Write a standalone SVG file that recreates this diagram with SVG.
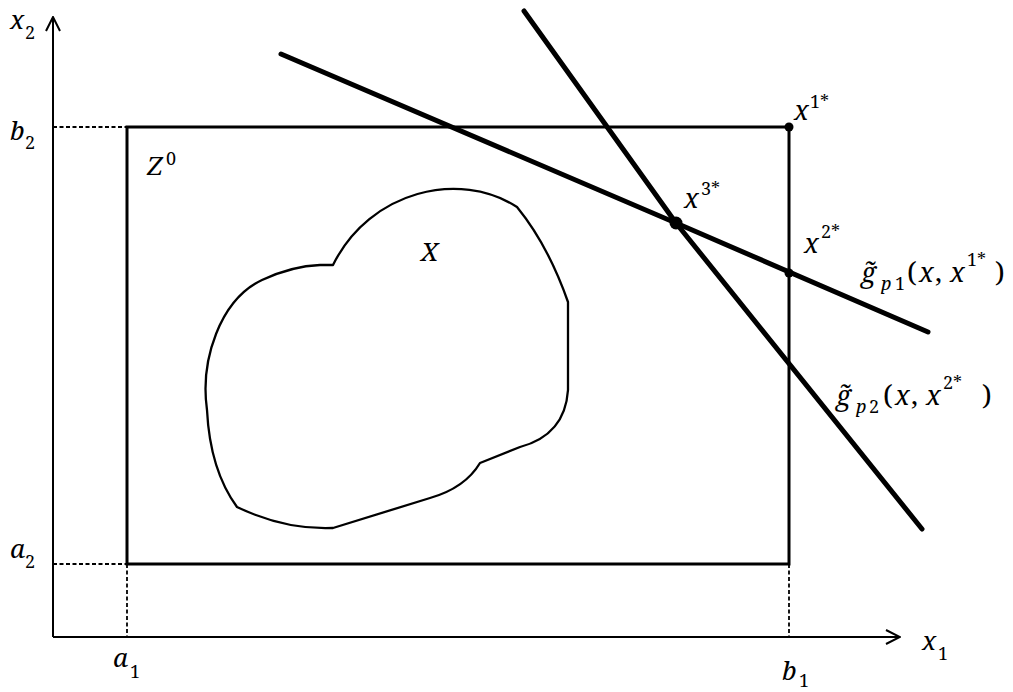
<svg xmlns="http://www.w3.org/2000/svg" width="1013" height="692" viewBox="0 0 1013 692">
<style>
  .ax{stroke:#000;stroke-width:2;fill:none}
  .dash{stroke:#000;stroke-width:1.8;stroke-dasharray:4 2.5;fill:none}
  .box{stroke:#000;stroke-width:3;fill:none}
  .blob{stroke:#000;stroke-width:2.3;fill:none;stroke-linejoin:round}
  .cut{stroke:#000;stroke-width:5;fill:none;stroke-linecap:round;stroke-linejoin:round}
  .pt{fill:#000}
  text{font-family:"Noto Serif","DejaVu Serif","Liberation Serif",serif;fill:#000}
  .m{font-size:26px;font-style:italic}
  .g{font-size:27px;font-style:italic}
  .r{font-size:28px;font-style:normal}
  .s{font-size:18px;font-style:normal}
  .si{font-size:18px;font-style:italic}
</style>
<defs>
  <marker id="arr" viewBox="0 0 16 16" refX="15" refY="8" markerWidth="16" markerHeight="16" markerUnits="userSpaceOnUse" orient="auto">
    <path d="M1,1 L15,8 L1,15" fill="none" stroke="#000" stroke-width="2"/>
  </marker>
</defs>
<rect width="1013" height="692" fill="#fff"/>
<g id="axes">
  <line class="ax" x1="53" y1="637" x2="53" y2="17" marker-end="url(#arr)"/>
  <line class="ax" x1="53" y1="637" x2="900" y2="637" marker-end="url(#arr)"/>
  <line class="dash" x1="53" y1="127" x2="127" y2="127"/>
  <line class="dash" x1="53" y1="564" x2="127" y2="564"/>
  <line class="dash" x1="127" y1="564" x2="127" y2="637"/>
  <line class="dash" x1="789" y1="564" x2="789" y2="637"/>
</g>
<g id="Z0">
  <rect class="box" x="127" y="127" width="662" height="437"/>
</g>
<g id="X">
  <path class="blob" d="M333,265 C370,190 460,170 517,207 Q548,245 568,302 L568,390 Q565,435 520,447 L480,463 Q465,488 430,498 L333,528 Q285,530 237,507 Q210,470 207,410 C200,360 220,300 262,280 Q292,266 320,265 Z"/>
</g>
<g id="connectors">
  <polyline id="gp1" class="cut" points="281,54 676,223 928,332"/>
  <polyline id="gp2" class="cut" points="524,11 676,223 922,529"/>
</g>
<g id="points">
  <circle id="x1s" class="pt" cx="789" cy="127" r="4.5"/>
  <circle id="x2s" class="pt" cx="789" cy="273" r="4.5"/>
  <circle id="x3s" class="pt" cx="676" cy="223" r="6.5"/>
</g>
<g id="labels">
  <text class="m" x="10" y="29">x<tspan class="s" x="25" y="39">2</tspan></text>
  <text class="m" x="10" y="140">b<tspan class="s" x="25" y="149">2</tspan></text>
  <text class="m" x="10" y="558">a<tspan class="s" x="25" y="568">2</tspan></text>
  <text class="m" x="113" y="667">a<tspan class="s" x="130" y="678">1</tspan></text>
  <text class="m" x="782" y="680">b<tspan class="s" x="799" y="687">1</tspan></text>
  <text class="m" x="922" y="650">x<tspan class="s" x="938" y="660">1</tspan></text>
  <text class="m" x="147" y="175">Z<tspan class="s" x="166" y="165">0</tspan></text>
  <text class="m" x="421" y="261">X</text>
  <text class="g" x="794" y="120">x<tspan class="s" x="810" y="108">1*</tspan></text>
  <text class="g" x="684" y="208">x<tspan class="s" x="701" y="195">3*</tspan></text>
  <text class="g" x="804" y="253">x<tspan class="s" x="821" y="238">2*</tspan></text>
  <text class="g" x="861" y="282">g&#x303;<tspan class="si" x="881" y="290">p</tspan><tspan class="s" x="895" y="290">1</tspan><tspan class="r" x="907" y="282">(</tspan><tspan x="919" y="282">x</tspan><tspan class="r" x="935" y="282">,</tspan><tspan x="950" y="282">x</tspan><tspan class="s" x="967" y="266">1*</tspan><tspan class="r" x="995" y="282">)</tspan></text>
  <text class="g" x="836" y="405">g&#x303;<tspan class="si" x="856" y="413">p</tspan><tspan class="s" x="869" y="413">2</tspan><tspan class="r" x="883" y="405">(</tspan><tspan x="895" y="405">x</tspan><tspan class="r" x="911" y="405">,</tspan><tspan x="926" y="405">x</tspan><tspan class="s" x="943" y="389">2*</tspan><tspan class="r" x="982" y="405">)</tspan></text>
</g>
</svg>
